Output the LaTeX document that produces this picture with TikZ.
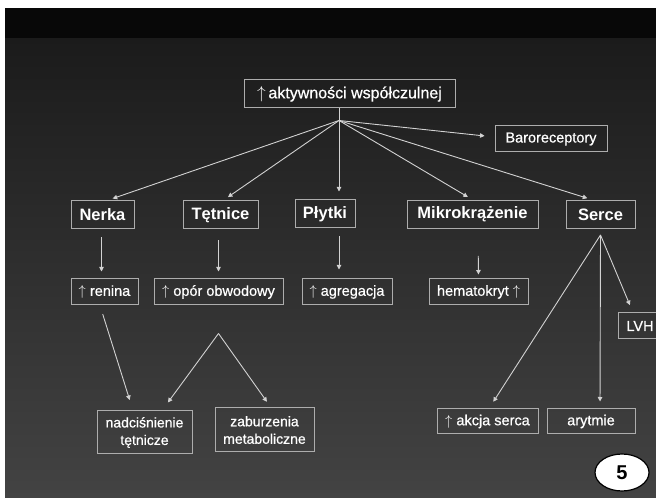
\documentclass[tikz,border=0pt]{standalone}
\usepackage{fontspec}
\setmainfont{Liberation Sans}
\newfontface\slidereg{Liberation Sans}[FakeBold=0.6]
\usepackage{tikz}
\usetikzlibrary{arrows.meta, shapes.geometric}
\usepackage{xcolor}
\definecolor{slidetop}{HTML}{1B1B1B}
\definecolor{slidebot}{HTML}{434343}
\definecolor{boxline}{HTML}{ADADAD}
\definecolor{linkline}{HTML}{D2D2D2}

\begin{document}
\begin{tikzpicture}[
  x=1pt, y=1pt,
  organ/.style={draw=boxline, line width=1pt, align=center, minimum height=28pt,
                inner sep=2pt, text=white, font=\fontsize{16.5}{19}\selectfont\bfseries},
  effect/.style={draw=boxline, line width=1pt, align=center, minimum height=26pt,
                 inner sep=2pt, text=white, font=\fontsize{14.5}{17}\slidereg},
  arr/.style={-{Triangle[length=4.5pt,width=4.5pt]}, draw=linkline, line width=0.9pt},
  lnk/.style={draw=linkline, line width=0.9pt}
]
  % slide background
  \fill[white] (0,0) rectangle (656,498);
  \clip (5,0) rectangle (656,490);
  \shade[top color=slidetop, bottom color=slidebot] (5,0) rectangle (656,460);
  \fill[black!97] (5,460) rectangle (656,490);

  % top level
  \node[effect, minimum width=211pt, minimum height=28pt, font=\fontsize{16}{19}\slidereg] (akt) at (349.5,404) {$\uparrow$\,aktywności współczulnej};
  \node[effect, minimum width=112pt] (baro) at (551,359) {Baroreceptory};

  % organs
  \node[organ, minimum width=63pt] (nerka) at (102.5,283) {Nerka};
  \node[organ, minimum width=75pt] (tetnice) at (220.5,283) {Tętnice};
  \node[organ, minimum width=60pt] (plytki) at (325,284) {Płytki};
  \node[organ, minimum width=131pt] (mikro) at (472.5,283.5) {Mikrokrążenie};
  \node[organ, minimum width=69pt] (serce) at (600.5,283.5) {Serce};

  % effects
  \node[effect, minimum width=67pt] (renina) at (104.5,206) {$\uparrow$ renina};
  \node[effect, minimum width=129pt] (opor) at (218.5,206) {$\uparrow$ opór obwodowy};
  \node[effect, minimum width=90pt] (agreg) at (347,206) {$\uparrow$ agregacja};
  \node[effect, minimum width=99pt] (hemat) at (478.5,206) {hematokryt $\uparrow$};
  \node[effect, minimum width=44pt] (lvh) at (640,172) {LVH};
  \node[effect, minimum width=95pt, minimum height=43pt, font=\fontsize{14}{17.5}\slidereg] (nadc) at (144.5,65.5) {nadciśnienie\\tętnicze};
  \node[effect, minimum width=99pt, minimum height=44pt, font=\fontsize{14}{17.5}\slidereg] (zabur) at (264.5,68) {zaburzenia\\metaboliczne};
  \node[effect, minimum width=101pt, minimum height=25pt] (akcja) at (487.5,76.5) {$\uparrow$ akcja serca};
  \node[effect, minimum width=88pt, minimum height=25pt] (arytm) at (591,76.5) {arytmie};

  % slide number
  \node[ellipse, draw=black, fill=white, line width=1.2pt, minimum width=54pt, minimum height=37pt,
        inner sep=0pt, font=\fontsize{20}{22}\selectfont\bfseries] (nr) at (622,25.5) {5};

  % fan from the top box
  \coordinate (fan) at ([xshift=-10.5pt, yshift=-12pt]akt.south);
  \draw[lnk] (akt.south -| fan) -- (fan);
  \draw[arr, shorten >=10pt] (fan) -- ([yshift=2pt]baro.west);
  \draw[arr, shorten >=6pt] (fan) -- ([xshift=4.5pt]nerka.north);
  \draw[arr, shorten >=6pt] (fan) -- ([xshift=2.5pt]tetnice.north);
  \draw[arr, shorten >=8pt] (fan) -- ([xshift=14pt]plytki.north);
  \draw[arr, shorten >=6pt] (fan) -- ([xshift=0.5pt]mikro.north);
  \draw[arr, shorten >=6pt] (fan) -- ([xshift=-7.5pt]serce.north);

  % organ -> effect
  \draw[arr, shorten <=8pt, shorten >=7pt] ([xshift=-1pt]nerka.south) -- ([xshift=-3pt]renina.north);
  \draw[arr, shorten <=11pt, shorten >=7pt] ([xshift=-2pt]tetnice.south) -- (opor.north);
  \draw[arr, shorten <=8pt, shorten >=9pt] ([xshift=14pt]plytki.south) -- ([xshift=-8pt]agreg.north);
  \draw[arr, shorten <=27pt, shorten >=4pt] ([xshift=5.5pt]mikro.south) -- (hemat.north);

  % heart
  \coordinate (sfan) at ([yshift=-6pt]serce.south);
  \draw[arr, shorten >=8pt] (sfan) -- ([xshift=-7pt]lvh.north);
  \draw[arr, shorten >=8pt] (sfan) -- ([xshift=1.5pt]akcja.north);
  \draw[arr, shorten >=7pt] (sfan) -- ([xshift=9pt]arytm.north);

  % lower level
  \coordinate (apex) at ([yshift=-28pt]opor.south);
  \draw[arr, shorten <=9pt, shorten >=11pt] ([xshift=-4.5pt]renina.south) -- ([xshift=-11.5pt]nadc.north);
  \draw[arr, shorten >=10pt] (apex) -- ([xshift=17.5pt]nadc.north);
  \draw[arr, shorten >=7pt] (apex) -- ([xshift=6.5pt]zabur.north);
\end{tikzpicture}
\end{document}
